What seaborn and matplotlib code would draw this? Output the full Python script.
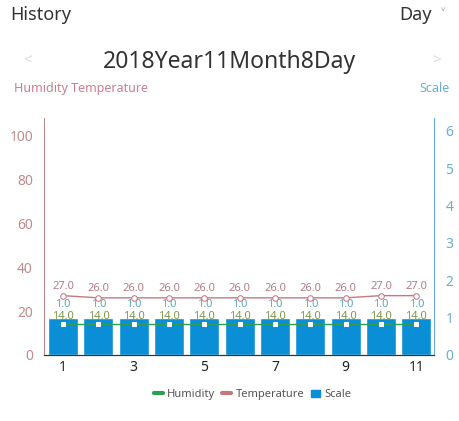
import pandas as pd
import matplotlib
matplotlib.use('Agg')
import matplotlib.pyplot as plt
import seaborn as sns
from matplotlib.lines import Line2D
from matplotlib.patches import Patch

# chart values
hours = [1, 2, 3, 4, 5, 6, 7, 8, 9, 10, 11]
scale = [1.0, 1.0, 1.0, 1.0, 1.0, 1.0, 1.0, 1.0, 1.0, 1.0, 1.0]
temperature = [27.0, 26.0, 26.0, 26.0, 26.0, 26.0, 26.0, 26.0, 26.0, 27.0, 27.0]
humidity = [14.0, 14.0, 14.0, 14.0, 14.0, 14.0, 14.0, 14.0, 14.0, 14.0, 14.0]
tick_labels = ['1', '', '3', '', '5', '', '7', '', '9', '', '11']

df = pd.DataFrame({'Hour': hours, 'Scale': scale,
                   'Temperature': temperature, 'Humidity': humidity})
df['pos'] = range(len(df))

sns.set_style('white')
plt.rcParams['font.family'] = ['Noto Sans', 'DejaVu Sans']

bar_color = '#0a8fd6'
temp_color = '#c27a80'
hum_color = '#2e9e55'
left_color = '#b98a8a'
right_color = '#6aaed6'

fig = plt.figure(figsize=(4.59, 4.21), dpi=100)

# bars on the base axis (scale on the right), lines on the twin (left)
ax_bar = fig.add_axes([0.096, 0.157, 0.85, 0.563])
ax = ax_bar.twinx()

sns.barplot(data=df, x='pos', y='Scale', color=bar_color, width=0.85,
            saturation=1, ax=ax_bar, native_scale=True)
ax_bar.yaxis.tick_right()
ax_bar.yaxis.set_label_position('right')
ax_bar.set_ylim(0, 6.35)
ax_bar.set_yticks([0, 1, 2, 3, 4, 5, 6])
ax_bar.set_xlim(-0.54, 10.51)
ax_bar.set_xticks(df['pos'])
ax_bar.set_xticklabels(tick_labels)
ax_bar.set_xlabel('')
ax_bar.set_ylabel('')

sns.lineplot(data=df, x='pos', y='Temperature', color=temp_color, lw=1,
             marker='o', markersize=4, markerfacecolor='white',
             markeredgecolor=temp_color, ax=ax)
sns.lineplot(data=df, x='pos', y='Humidity', color=hum_color, lw=1,
             marker='s', markersize=3.5, markerfacecolor='white',
             markeredgecolor='white', ax=ax)
ax.yaxis.tick_left()
ax.set_ylim(0, 108)
ax.set_yticks([0, 20, 40, 60, 80, 100])
ax.set_xlim(-0.54, 10.51)
ax.set_xlabel('')
ax.set_ylabel('')

# value labels
for p, t, h, s in zip(df['pos'], temperature, humidity, scale):
    ax.text(p, t + 1.8, f'{t:.1f}', ha='center', va='bottom', fontsize=8, color='#b07f86')
    ax.text(p, h + 1.2, f'{h:.1f}', ha='center', va='bottom', fontsize=8, color='#7a9a4a')
    ax_bar.text(p, s + 0.2, f'{s:.1f}', ha='center', va='bottom', fontsize=8, color='#55a8b8')

for a in (ax, ax_bar):
    a.spines['top'].set_visible(False)
ax.spines['left'].set_color(left_color)
ax.spines['right'].set_color(right_color)
ax.spines['bottom'].set_color('#333333')
ax_bar.spines['left'].set_visible(False)
ax_bar.spines['right'].set_visible(False)
ax_bar.spines['bottom'].set_color('#333333')
ax.tick_params(axis='y', colors='#c08c8c', labelsize=10, length=0, pad=8)
ax_bar.tick_params(axis='y', colors=right_color, labelsize=10, length=0, pad=8)
ax_bar.tick_params(axis='x', colors='#222222', labelsize=10, length=0, pad=4)

# header texts
fig.text(0.022, 0.965, 'History', fontsize=13, color='#333333', va='center')
fig.text(0.87, 0.965, 'Day', fontsize=13, color='#333333', va='center')
fig.text(0.965, 0.962, '˅', fontsize=11, color='#888888', ha='center', va='center')
fig.text(0.5, 0.852, '2018Year11Month8Day', fontsize=16.5, color='#333333',
         ha='center', va='center')
fig.text(0.06, 0.855, '<', fontsize=11, color='#dddddd', ha='center', va='center')
fig.text(0.952, 0.855, '>', fontsize=11, color='#dddddd', ha='center', va='center')
fig.text(0.03, 0.79, 'Humidity Temperature', fontsize=9, color='#c97f92', va='center')
fig.text(0.98, 0.79, 'Scale', fontsize=9, color='#6aaed6', ha='right', va='center')

# legend
handles = [Line2D([], [], color=hum_color, lw=3),
           Line2D([], [], color=temp_color, lw=3),
           Patch(color=bar_color)]
fig.legend(handles, ['Humidity', 'Temperature', 'Scale'], loc='center',
           bbox_to_anchor=(0.55, 0.063), ncol=3, frameon=False, fontsize=8,
           handlelength=0.8, handleheight=0.6, handletextpad=0.4, columnspacing=0.6,
           labelcolor='#555555')

fig.savefig('out.png', dpi=100)
